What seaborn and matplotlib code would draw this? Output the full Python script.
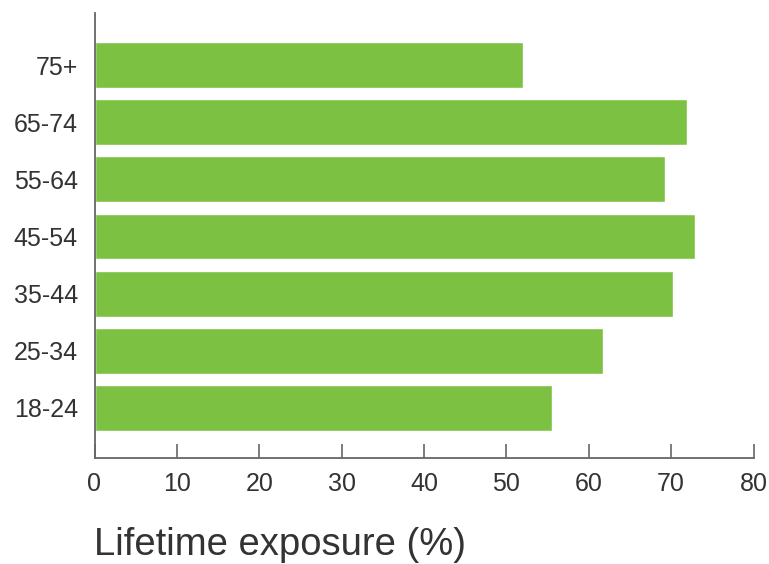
import matplotlib
matplotlib.use("Agg")
import matplotlib.pyplot as plt
import seaborn as sns
import pandas as pd

age_groups = ["75+", "65-74", "55-64", "45-54", "35-44", "25-34", "18-24"]
exposure = [52.0, 71.9, 69.2, 72.9, 70.2, 61.7, 55.5]
x_ticks = [0, 10, 20, 30, 40, 50, 60, 70, 80]

sns.set_style("white")
plt.rcParams['font.family'] = ['Liberation Sans', 'DejaVu Sans']

df = pd.DataFrame({"age": age_groups, "exposure": exposure})

fig = plt.figure(figsize=(7.69, 5.64), dpi=100)
ax = fig.add_axes([94.5/769, 1 - 458/564, (753.5 - 94.5)/769, (458 - 13)/564])

sns.barplot(data=df, y="age", x="exposure", order=age_groups, orient="h",
            color="#7cc142", saturation=1, width=0.8, ax=ax)

ax.set_xlim(0, 80)
ax.set_ylim(6.875, -0.91)
ax.set_xticks(x_ticks)
ax.set_xticklabels([str(t) for t in x_ticks])

for s in ["top", "right"]:
    ax.spines[s].set_visible(False)
for s in ["left", "bottom"]:
    ax.spines[s].set_color("#666666")
    ax.spines[s].set_linewidth(1.3)

ax.tick_params(axis="x", direction="in", length=10, width=1.2, color="#666666",
               labelsize=18, labelcolor="#333333", pad=10, bottom=True)
ax.tick_params(axis="y", length=0, labelsize=18, labelcolor="#333333", pad=12, left=False)

ax.set_ylabel("")
ax.set_xlabel("")
fig.text(94/769, 9/564, "Lifetime exposure (%)", fontsize=27.5, color="#333333",
         ha="left", va="baseline")

fig.savefig("out.png", dpi=100)
